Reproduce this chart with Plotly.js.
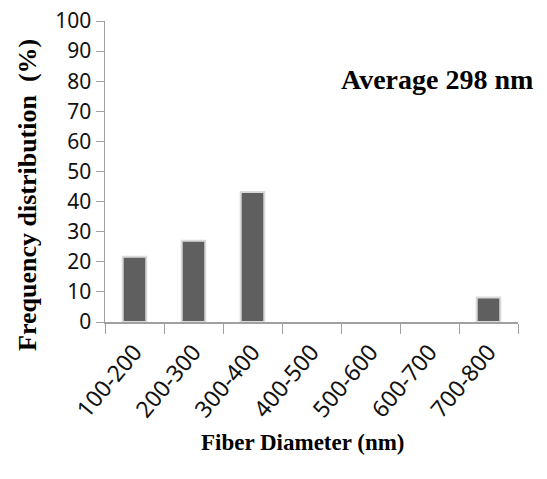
<!DOCTYPE html>
<html><head><meta charset="utf-8">
<script src="https://cdn.plot.ly/plotly-3.0.1.min.js"></script>
<style>html,body{margin:0;padding:0;background:#fff}#chart{width:547px;height:479px}</style>
</head><body><div id="chart"></div>
<script>
const categories = ["100-200","200-300","300-400","400-500","500-600","600-700","700-800"];
const frequency = [21.7, 27.0, 43.2, 0, 0, 0, 8.1];
const yTicks = [0,10,20,30,40,50,60,70,80,90,100];
const yTitle = "Frequency distribution  (%)";
const xTitle = "Fiber Diameter (nm)";
const note = "Average 298 nm";

const W = 547, H = 479;
const L = 105, R = 29, T = 21, B = 157;
function px(x){ return (x - L) / (W - L - R); }
function py(y){ return (H - B - y) / (H - T - B); }

const data = [{
  type: 'bar', x: categories, y: frequency,
  marker: {color: '#5f5f5f', line: {color: '#dadada', width: frequency.map(v => v > 0 ? 2 : 0)}},
  hoverinfo: 'skip'
}];
const layout = {
  width: W, height: H,
  margin: {l: L, r: R, t: T, b: B},
  paper_bgcolor: '#fff', plot_bgcolor: '#fff',
  bargap: 0.6,
  showlegend: false,
  xaxis: {
    type: 'category', tickson: 'boundaries', ticks: 'outside', ticklen: 10, tickcolor: '#a0a0a0',
    showline: true, linecolor: '#a0a0a0', linewidth: 1.5, showgrid: false,
    tickangle: -50, ticklabelstandoff: 6, tickfont: {family: 'Noto Sans', size: 23, color: '#111'},
    automargin: false
  },
  yaxis: {
    range: [0, 100], tickvals: yTicks, ticks: 'outside', ticklen: 8, tickcolor: '#a0a0a0',
    showline: true, linecolor: '#a0a0a0', linewidth: 1.5, showgrid: false, zeroline: false,
    tickfont: {family: 'Noto Sans', size: 21, color: '#111'}, automargin: false
  },
  annotations: [
    {text: '<b>' + yTitle + '</b>', xref: 'paper', yref: 'paper', x: px(27), y: py(195),
     xanchor: 'center', yanchor: 'middle',
     textangle: -90, showarrow: false, font: {family: 'Liberation Serif', size: 26, color: '#000'}},
    {text: '<b>' + xTitle + '</b>', xref: 'paper', yref: 'paper', x: px(303), y: py(442),
     xanchor: 'center', yanchor: 'middle',
     showarrow: false, font: {family: 'Liberation Serif', size: 23, color: '#000'}},
    {text: '<b>' + note + '</b>', xref: 'paper', yref: 'paper', x: px(437), y: py(79),
     xanchor: 'center', yanchor: 'middle',
     showarrow: false, font: {family: 'Liberation Serif', size: 28, color: '#000'}}
  ]
};
Plotly.newPlot('chart', data, layout, {displayModeBar: false, staticPlot: true});
</script></body></html>
